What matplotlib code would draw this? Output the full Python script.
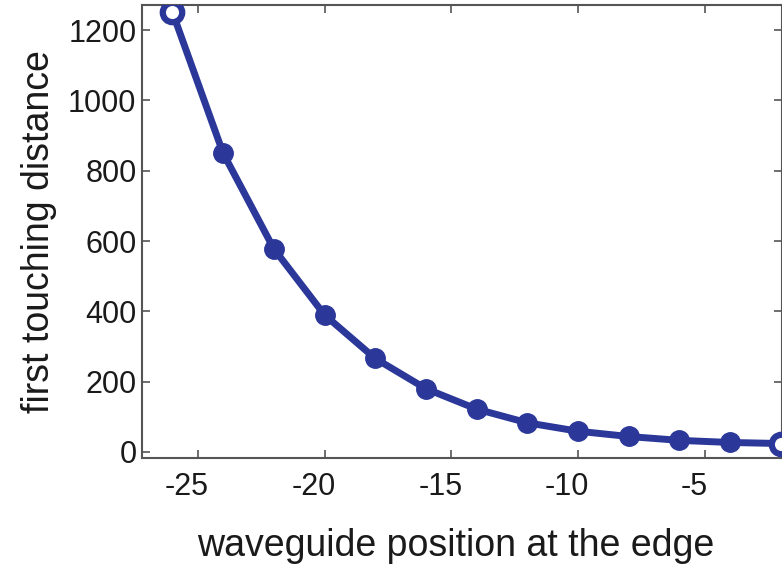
import numpy as np
import matplotlib.pyplot as plt
from matplotlib.transforms import ScaledTranslation

plt.rcParams['font.family'] = ['Liberation Sans', 'DejaVu Sans']
plt.rcParams['axes.unicode_minus'] = False

# data
position = [-26, -24, -22, -20, -18, -16, -14, -12, -10, -8, -6, -4, -2]
distance = [1251, 850, 578, 390, 266, 180, 122, 83, 59, 44, 33, 27, 24]
xticks = [-25, -20, -15, -10, -5]
yticks = [0, 200, 400, 600, 800, 1000, 1200]

blue = '#2b3899'

fig = plt.figure(figsize=(7.82, 5.71), dpi=100)
ax = fig.add_axes([0.1816, 0.198, 0.8184, 0.793])

ax.plot(position, distance, '-', color=blue, lw=5, zorder=2)
ax.plot(position[1:-1], distance[1:-1], 'o', color=blue, ms=14, zorder=3)
ax.plot([position[0], position[-1]], [distance[0], distance[-1]], 'o', mfc='white',
        mec=blue, mew=4.5, ms=14, zorder=3)

ax.set_xlim(-27.2, -1.95)
ax.set_ylim(-17, 1271)
ax.set_xticks(xticks)
ax.set_yticks(yticks)
ax.tick_params(direction='in', length=6, width=1.2, color='#555555',
               labelsize=22, labelcolor='#1a1a1a', top=True, right=True, pad=4)
ax.tick_params(axis='x', pad=10)
for s in ax.spines.values():
    s.set_color('#555555')
    s.set_linewidth(1.5)

# x tick labels sit a little left of their ticks in the original
shift = ScaledTranslation(-11 / 100, 0, fig.dpi_scale_trans)
for lab in ax.get_xticklabels():
    lab.set_transform(lab.get_transform() + shift)

ax.set_xlabel('waveguide position at the edge', fontsize=27, color='#1a1a1a')
ax.xaxis.set_label_coords(0.49, -0.155)
ax.set_ylabel('first touching distance', fontsize=27, color='#1a1a1a', labelpad=8)

fig.savefig('out.png', dpi=100)
